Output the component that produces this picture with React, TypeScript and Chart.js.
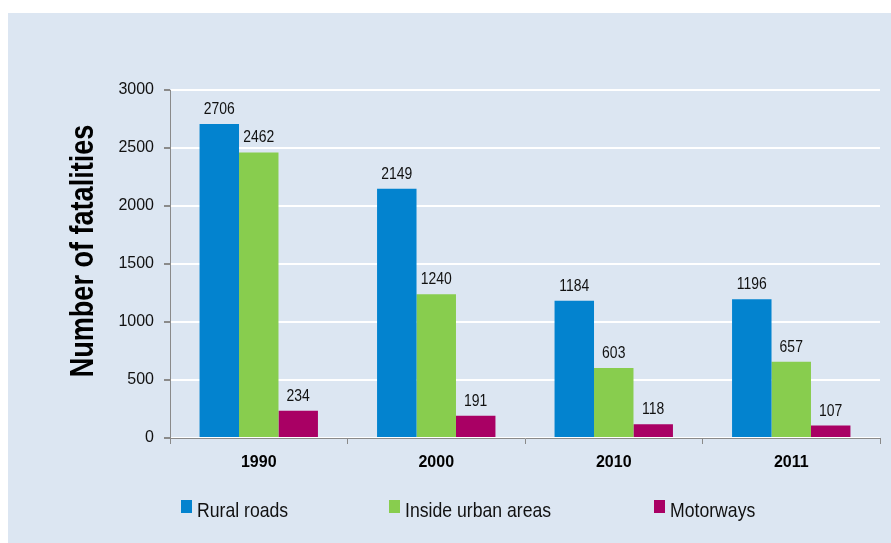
import React, { useEffect, useRef } from "react";
import { Chart, registerables } from "chart.js";

Chart.register(...registerables);

const categories = ["1990", "2000", "2010", "2011"];
const ruralRoads = [2706, 2149, 1184, 1196];
const urbanAreas = [2462, 1240, 603, 657];
const motorways = [234, 191, 118, 107];
const seriesNames = ["Rural roads", "Inside urban areas", "Motorways"];
const yTicks = [0, 500, 1000, 1500, 2000, 2500, 3000];
const yTitle = "Number of fatalities";

const FONT = "'Liberation Sans', Arial, sans-serif";
const NARROW = 0.82;
const COLORS = ["#0383cf", "#88cd4e", "#a90064"];
const PANEL = "#dce6f2";

function narrowText(ctx: any, text: string, x: number, y: number, align: string, k = NARROW) {
  ctx.save();
  ctx.translate(x, y);
  ctx.scale(k, 1);
  ctx.textAlign = align;
  ctx.fillText(text, 0, 0);
  ctx.restore();
}

const decorPlugin = {
  id: "decor",
  beforeDraw(chart: any) {
    const { ctx, width, height } = chart;
    ctx.save();
    ctx.fillStyle = "#ffffff";
    ctx.fillRect(0, 0, width, height);
    ctx.fillStyle = PANEL;
    ctx.fillRect(8, 13, width - 8, height - 13);
    ctx.restore();
  },
  afterDraw(chart: any) {
    const { ctx } = chart;
    ctx.save();
    ctx.textBaseline = "alphabetic";
    // data labels
    ctx.fillStyle = "#111111";
    ctx.font = `17px ${FONT}`;
    chart.data.datasets.forEach((ds: any, i: number) => {
      const meta = chart.getDatasetMeta(i);
      meta.data.forEach((bar: any, j: number) => {
        narrowText(ctx, String(ds.data[j]), bar.x, bar.y - 10, "center");
      });
    });
    // y title
    ctx.save();
    ctx.translate(93, 251);
    ctx.rotate(-Math.PI / 2);
    ctx.font = `bold 33px ${FONT}`;
    ctx.fillStyle = "#000000";
    narrowText(ctx, yTitle, 0, 0, "center");
    ctx.restore();
    // legend
    const xs = [181, 389, 654];
    ctx.font = `21px ${FONT}`;
    chart.data.datasets.forEach((ds: any, i: number) => {
      ctx.fillStyle = ds.backgroundColor;
      ctx.fillRect(xs[i], 500, 11, 13);
      ctx.fillStyle = "#111111";
      narrowText(ctx, ds.label, xs[i] + 16, 517, "left", 0.84);
    });
    ctx.restore();
  },
};

export default function App() {
  const ref = useRef<HTMLCanvasElement>(null);
  useEffect(() => {
    if (!ref.current) return;
    Chart.defaults.font.family = FONT;
    const chart = new Chart(ref.current, {
      type: "bar",
      data: {
        labels: categories,
        datasets: [ruralRoads, urbanAreas, motorways].map((d, i) => ({
          label: seriesNames[i],
          data: d,
          backgroundColor: COLORS[i],
          borderWidth: 0,
          categoryPercentage: 0.667,
          barPercentage: 1,
        })),
      },
      options: {
        animation: false,
        responsive: false,
        layout: { padding: { top: 90, right: 11, left: 0, bottom: 0 } },
        plugins: { legend: { display: false }, tooltip: { enabled: false } },
        scales: {
          x: {
            grid: {
              offset: true,
              drawOnChartArea: false,
              drawTicks: true,
              tickLength: 6,
              tickColor: "#8a8a8a",
            },
            border: { color: "#8a8a8a", width: 1 },
            ticks: {
              color: "#000000",
              font: { size: 16, weight: "bold", family: FONT },
              padding: 9,
              maxRotation: 0,
            },
            afterFit(scale: any) {
              scale.height = 105;
            },
          },
          y: {
            min: 0,
            max: 3000,
            afterBuildTicks(scale: any) {
              scale.ticks = yTicks.map((v) => ({ value: v }));
            },
            grid: {
              color: "#ffffff",
              lineWidth: 2,
              tickColor: "#8a8a8a",
              tickLength: 6,
            },
            border: { color: "#8a8a8a", width: 1 },
            ticks: {
              color: "#111111",
              font: { size: 16, family: FONT },
              padding: 10,
              callback: (v: any) => String(v),
            },
            afterFit(scale: any) {
              scale.width = 170;
            },
          },
        },
      },
      plugins: [decorPlugin],
    });
    return () => chart.destroy();
  }, []);
  return (
    <div style={{ position: "fixed", left: 0, top: 0, width: 891, height: 543 }}>
      <canvas ref={ref} width={891} height={543} />
    </div>
  );
}
